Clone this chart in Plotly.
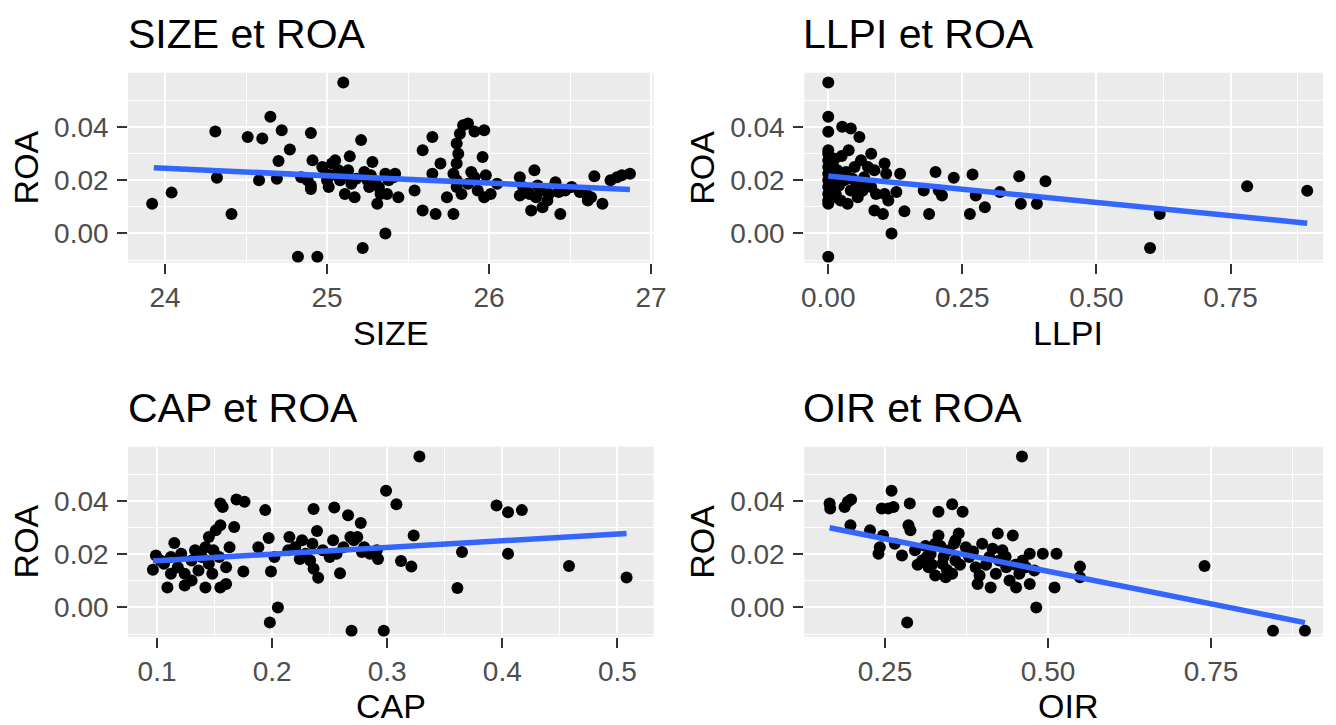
import plotly.graph_objects as go

# ---------------- data ----------------
size_x = [23.92, 24.04, 24.31, 24.32, 24.41, 24.51, 24.58, 24.60, 24.65, 24.69, 24.70, 24.72, 24.77, 24.82,
          24.84, 24.88, 24.90, 24.90, 24.90, 24.91, 24.94, 24.97, 24.99, 25.00, 25.01, 25.02, 25.03, 25.05,
          25.07, 25.08, 25.10, 25.11, 25.12, 25.13, 25.14, 25.15, 25.17, 25.18, 25.21, 25.22, 25.23, 25.25,
          25.26, 25.27, 25.28, 25.30, 25.31, 25.32, 25.33, 25.36, 25.36, 25.37, 25.38, 25.41, 25.42, 25.44,
          25.54, 25.59, 25.59, 25.65, 25.65, 25.67, 25.70, 25.74, 25.78, 25.78, 25.80, 25.80, 25.80, 25.80,
          25.81, 25.82, 25.83, 25.84, 25.87, 25.87, 25.89, 25.91, 25.91, 25.93, 25.96, 25.97, 25.97, 25.98,
          26.01, 26.05, 26.19, 26.19, 26.21, 26.23, 26.25, 26.26, 26.28, 26.29, 26.30, 26.32, 26.33, 26.36,
          26.37, 26.41, 26.43, 26.44, 26.47, 26.51, 26.56, 26.60, 26.61, 26.63, 26.65, 26.70, 26.75, 26.79,
          26.82, 26.87]
size_roa = [0.0111, 0.0153, 0.0382, 0.0209, 0.0073, 0.0362, 0.0199, 0.0356, 0.0438, 0.0205, 0.0272, 0.0387,
            0.0315, -0.0088, 0.0211, 0.0199, 0.0377, 0.0180, 0.0167, 0.0274, -0.0088, 0.0249, 0.0224, 0.0199,
            0.0174, 0.0218, 0.0262, 0.0274, 0.0237, 0.0199, 0.0566, 0.0148, 0.0218, 0.0237, 0.0289, 0.0186,
            0.0136, 0.0205, 0.0350, -0.0055, 0.0230, 0.0199, 0.0174, 0.0218, 0.0268, 0.0186, 0.0111, 0.0174,
            0.0148, 0.0224, 0.0000, 0.0148, 0.0199, 0.0211, 0.0224, 0.0136, 0.0161, 0.0312, 0.0086, 0.0362,
            0.0224, 0.0073, 0.0262, 0.0136, 0.0073, 0.0224, 0.0174, 0.0337, 0.0262, 0.0199, 0.0299, 0.0374,
            0.0148, 0.0406, 0.0412, 0.0186, 0.0230, 0.0382, 0.0211, 0.0161, 0.0287, 0.0387, 0.0136, 0.0218,
            0.0148, 0.0186, 0.0211, 0.0142, 0.0174, 0.0161, 0.0148, 0.0086, 0.0237, 0.0136, 0.0180, 0.0161,
            0.0098, 0.0123, 0.0148, 0.0192, 0.0155, 0.0073, 0.0161, 0.0174, 0.0155, 0.0148, 0.0123, 0.0136,
            0.0214, 0.0111, 0.0199, 0.0211, 0.0218, 0.0224]

llpi_x = [0.000, 0.000, 0.000, 0.000, 0.000, 0.000, 0.000, 0.000, 0.000, 0.000, 0.000, 0.000, 0.000, 0.000,
          0.008, 0.008, 0.008, 0.026, 0.042, 0.058, 0.038, 0.061, 0.080, 0.017, 0.030, 0.042, 0.055, 0.067,
          0.080, 0.089, 0.023, 0.036, 0.014, 0.049, 0.074, 0.086, 0.086, 0.102, 0.105, 0.108, 0.105, 0.112,
          0.118, 0.127, 0.134, 0.142, 0.178, 0.188, 0.200, 0.206, 0.212, 0.234, 0.264, 0.269, 0.275, 0.292,
          0.320, 0.356, 0.359, 0.389, 0.405, 0.600, 0.618, 0.781, 0.893,
          0.005, 0.012, 0.020, 0.025, 0.033, 0.045, 0.052, 0.064, 0.070, 0.010, 0.003, 0.015]
llpi_roa = [0.0566, 0.0438, 0.0381, -0.0088, 0.0312, 0.0299, 0.0274, 0.0249, 0.0224, 0.0199, 0.0174, 0.0148,
            0.0123, 0.0111, 0.0262, 0.0186, 0.0136, 0.0400, 0.0394, 0.0362, 0.0312, 0.0274, 0.0299, 0.0237,
            0.0199, 0.0161, 0.0136, 0.0211, 0.0174, 0.0148, 0.0123, 0.0111, 0.0148, 0.0249, 0.0249, 0.0237,
            0.0086, 0.0073, 0.0262, 0.0224, 0.0148, 0.0123, 0.0000, 0.0155, 0.0224, 0.0083, 0.0161, 0.0073,
            0.0230, 0.0161, 0.0142, 0.0209, 0.0073, 0.0221, 0.0142, 0.0098, 0.0155, 0.0214, 0.0111, 0.0111,
            0.0196, -0.0055, 0.0073, 0.0177, 0.0160,
            0.0205, 0.0280, 0.0180, 0.0290, 0.0230, 0.0205, 0.0180, 0.0160, 0.0190, 0.0160, 0.0240, 0.0215]

cap_x = [0.0964, 0.099, 0.109, 0.115, 0.124, 0.142, 0.155, 0.157, 0.155, 0.151, 0.145, 0.169, 0.176, 0.167,
         0.163, 0.155, 0.160, 0.175, 0.194, 0.197, 0.188, 0.202, 0.199, 0.198, 0.205, 0.215, 0.224, 0.236,
         0.239, 0.236, 0.240, 0.254, 0.253, 0.259, 0.266, 0.269, 0.277, 0.292, 0.299, 0.297, 0.308, 0.312,
         0.321, 0.323, 0.328, 0.361, 0.365, 0.395, 0.405, 0.417, 0.405, 0.458, 0.508,
         0.103, 0.106, 0.112, 0.118, 0.124, 0.130, 0.133, 0.136, 0.139, 0.145, 0.148, 0.130, 0.121, 0.142,
         0.149, 0.154, 0.160, 0.112, 0.220, 0.229, 0.235, 0.244, 0.250, 0.256, 0.262, 0.268, 0.280, 0.285,
         0.291, 0.226, 0.214, 0.233, 0.271, 0.274, 0.278]
cap_roa = [0.0141, 0.0195, 0.0075, 0.0242, 0.0082, 0.0075, 0.0390, 0.0377, 0.0308, 0.0289, 0.0264, 0.0405,
           0.0396, 0.0302, 0.0226, 0.0075, 0.0088, 0.0135, 0.0365, 0.0260, 0.0226, 0.0189, 0.0135, -0.0057,
           0.0000, 0.0264, 0.0182, 0.0369, 0.0287, 0.0145, 0.0111, 0.0375, 0.0252, 0.0128, 0.0346, -0.0088,
           0.0317, 0.0182, 0.0438, -0.0088, 0.0387, 0.0174, 0.0153, 0.0270, 0.0566, 0.0073, 0.0208, 0.0382,
           0.0357, 0.0365, 0.0201, 0.0155, 0.0112,
           0.0176, 0.0164, 0.0189, 0.0151, 0.0126, 0.0176, 0.0214, 0.0138, 0.0189, 0.0164, 0.0126, 0.0101,
           0.0201, 0.0226, 0.0214, 0.0189, 0.0151, 0.0126, 0.0226, 0.0201, 0.0239, 0.0214, 0.0189, 0.0201,
           0.0226, 0.0264, 0.0226, 0.0201, 0.0214, 0.0252, 0.0214, 0.0176, 0.0252, 0.0264, 0.0208]

oir_x = [0.165, 0.166, 0.188, 0.193, 0.198, 0.197, 0.227, 0.242, 0.240, 0.245, 0.255, 0.263, 0.260, 0.247,
         0.265, 0.276, 0.284, 0.288, 0.286, 0.289, 0.307, 0.317, 0.327, 0.343, 0.353, 0.338, 0.348, 0.327,
         0.332, 0.358, 0.363, 0.374, 0.379, 0.389, 0.392, 0.412, 0.420, 0.425, 0.430, 0.423, 0.441, 0.451,
         0.446, 0.461, 0.472, 0.472, 0.482, 0.492, 0.479, 0.513, 0.510, 0.549, 0.549, 0.332, 0.353, 0.369,
         0.296, 0.314, 0.358, 0.399, 0.410, 0.436, 0.456, 0.466, 0.460, 0.740, 0.845, 0.894,
         0.300, 0.320, 0.340, 0.345, 0.365, 0.385, 0.395, 0.405, 0.415, 0.435, 0.450, 0.335, 0.312, 0.322,
         0.356]
oir_roa = [0.0390, 0.0371, 0.0377, 0.0396, 0.0405, 0.0308, 0.0289, 0.0226, 0.0201, 0.0371, 0.0371, 0.0377,
           0.0438, 0.0270, 0.0239, 0.0195, -0.0057, 0.0390, 0.0308, 0.0289, 0.0176, 0.0151, 0.0120, 0.0113,
           0.0126, 0.0164, 0.0214, 0.0239, 0.0270, 0.0252, 0.0277, 0.0226, 0.0189, 0.0151, 0.0088, 0.0075,
           0.0126, 0.0176, 0.0214, 0.0277, 0.0101, 0.0075, 0.0270, 0.0176, 0.0201, 0.0088, 0.0000, 0.0201,
           0.0138, 0.0201, 0.0075, 0.0153, 0.0113, 0.0359, 0.0387, 0.0359, 0.0214, 0.0189, 0.0176, 0.0239,
           0.0189, 0.0151, 0.0126, 0.0151, 0.0566, 0.0155, -0.0088, -0.0088,
           0.0160, 0.0200, 0.0190, 0.0140, 0.0160, 0.0210, 0.0120, 0.0160, 0.0220, 0.0190, 0.0160, 0.0230,
           0.0230, 0.0160, 0.0240]

# fitted regression line end points
size_fit_x = [23.93, 26.87]
size_fit_roa = [0.0246, 0.0165]
llpi_fit_x = [0.0, 0.893]
llpi_fit_roa = [0.0215, 0.0038]
cap_fit_x = [0.0964, 0.508]
cap_fit_roa = [0.0174, 0.0277]
oir_fit_x = [0.165, 0.894]
oir_fit_roa = [0.0299, -0.0057]

# tick labels
roa_ticks = [0.0, 0.02, 0.04]
roa_ticktext = ["0.00", "0.02", "0.04"]
roa_minor = [-0.01, 0.01, 0.03, 0.05]
size_ticks = [24, 25, 26, 27]
size_ticktext = ["24", "25", "26", "27"]
size_minor = [24.5, 25.5, 26.5]
llpi_ticks = [0.0, 0.25, 0.5, 0.75]
llpi_ticktext = ["0.00", "0.25", "0.50", "0.75"]
llpi_minor = [0.125, 0.375, 0.625, 0.875]
cap_ticks = [0.1, 0.2, 0.3, 0.4, 0.5]
cap_ticktext = ["0.1", "0.2", "0.3", "0.4", "0.5"]
cap_minor = [0.15, 0.25, 0.35, 0.45]
oir_ticks = [0.25, 0.5, 0.75]
oir_ticktext = ["0.25", "0.50", "0.75"]
oir_minor = [0.375, 0.625, 0.875]

panel_titles = ["SIZE et ROA", "LLPI et ROA", "CAP et ROA", "OIR et ROA"]
x_titles = ["SIZE", "LLPI", "CAP", "OIR"]
y_title = "ROA"

# ---------------- figure ----------------
W, H = 1336, 725
FONT = "Liberation Sans, Arial, sans-serif"
POINT = "black"
LINE = "#3366FF"

fig = go.Figure()

panels = [
    (size_x, size_roa, size_fit_x, size_fit_roa, "x", "y"),
    (llpi_x, llpi_roa, llpi_fit_x, llpi_fit_roa, "x2", "y2"),
    (cap_x, cap_roa, cap_fit_x, cap_fit_roa, "x3", "y3"),
    (oir_x, oir_roa, oir_fit_x, oir_fit_roa, "x4", "y4"),
]
for px, py, fx, fy, xa, ya in panels:
    fig.add_trace(go.Scatter(x=px, y=py, mode="markers", xaxis=xa, yaxis=ya,
                             marker=dict(color=POINT, size=12, line=dict(width=0)),
                             showlegend=False, hoverinfo="x+y"))
    fig.add_trace(go.Scatter(x=fx, y=fy, mode="lines", xaxis=xa, yaxis=ya,
                             line=dict(color=LINE, width=5.5),
                             showlegend=False, hoverinfo="skip"))

# pixel geometry
left_x = [126.7 / W, 658.5 / W]
right_x = [811 / W, 1.0]
top_y = [1 - 262.7 / H, 1 - 72.7 / H]
bot_y = [1 - 636.7 / H, 1 - 446.7 / H]

roa_range = [-0.011, 0.0603]


def xaxis(domain, anchor, rng, ticks, text, minor):
    return dict(domain=domain, anchor=anchor, range=rng, tickmode="array", tickvals=ticks, ticktext=text,
                showgrid=True, gridcolor="white", gridwidth=2.2, zeroline=False, showline=False,
                ticks="outside", ticklen=10, tickwidth=2, tickcolor="#333333",
                tickfont=dict(family=FONT, size=28, color="#4D4D4D"),
                minor=dict(tickmode="array", tickvals=minor, showgrid=True, gridcolor="white",
                           gridwidth=1.1, ticks=""),
                fixedrange=True)


def yaxis(domain, anchor):
    return dict(domain=domain, anchor=anchor, range=roa_range, tickmode="array", tickvals=roa_ticks,
                ticktext=roa_ticktext, showgrid=True, gridcolor="white", gridwidth=2.2, zeroline=False,
                showline=False, ticks="outside", ticklen=10, tickwidth=2, tickcolor="#333333",
                tickfont=dict(family=FONT, size=28, color="#4D4D4D"), ticklabelstandoff=3,
                minor=dict(tickmode="array", tickvals=roa_minor, showgrid=True, gridcolor="white",
                           gridwidth=1.1, ticks=""),
                fixedrange=True)


fig.update_layout(
    width=W, height=H,
    margin=dict(l=0, r=0, t=0, b=0),
    paper_bgcolor="white", plot_bgcolor="#EBEBEB",
    xaxis=xaxis(left_x, "y", [23.772, 27.016], size_ticks, size_ticktext, size_minor),
    yaxis=yaxis(top_y, "x"),
    xaxis2=xaxis(right_x, "y2", [-0.0447, 0.9224], llpi_ticks, llpi_ticktext, llpi_minor),
    yaxis2=yaxis(top_y, "x2"),
    xaxis3=xaxis(left_x, "y3", [0.0749, 0.5315], cap_ticks, cap_ticktext, cap_minor),
    yaxis3=yaxis(bot_y, "x3"),
    xaxis4=xaxis(right_x, "y4", [0.1262, 0.9217], oir_ticks, oir_ticktext, oir_minor),
    yaxis4=yaxis(bot_y, "x4"),
    showlegend=False,
)

ann = []
title_pos = [(124 / W, 1 - 34.5 / H), (808 / W, 1 - 34.5 / H),
             (124 / W, 1 - 408.5 / H), (808 / W, 1 - 408.5 / H)]
for t, (x, y) in zip(panel_titles, title_pos):
    ann.append(dict(text=t, x=x, y=y, xref="paper", yref="paper", xanchor="left", yanchor="middle",
                    showarrow=False, font=dict(family=FONT, size=41, color="black")))
xt_pos = [(392.6 / W, 1 - 333 / H), (1077.7 / W, 1 - 333 / H),
          (392.6 / W, 1 - 705.5 / H), (1077.7 / W, 1 - 705.5 / H)]
for t, (x, y) in zip(x_titles, xt_pos):
    ann.append(dict(text=t, x=x, y=y, xref="paper", yref="paper", xanchor="center", yanchor="middle",
                    showarrow=False, font=dict(family=FONT, size=34, color="black")))
yt_pos = [(23 / W, 1 - 167.7 / H), (707.5 / W, 1 - 167.7 / H),
          (23 / W, 1 - 541.7 / H), (707.5 / W, 1 - 541.7 / H)]
for x, y in yt_pos:
    ann.append(dict(text=y_title, x=x, y=y, xref="paper", yref="paper", xanchor="center", yanchor="middle",
                    textangle=-90, showarrow=False, font=dict(family=FONT, size=34, color="black")))
fig.update_layout(annotations=ann)

fig.write_html("out.html", config={"displayModeBar": False},
               post_script="document.body.style.margin='0';document.body.style.overflow='hidden';")
